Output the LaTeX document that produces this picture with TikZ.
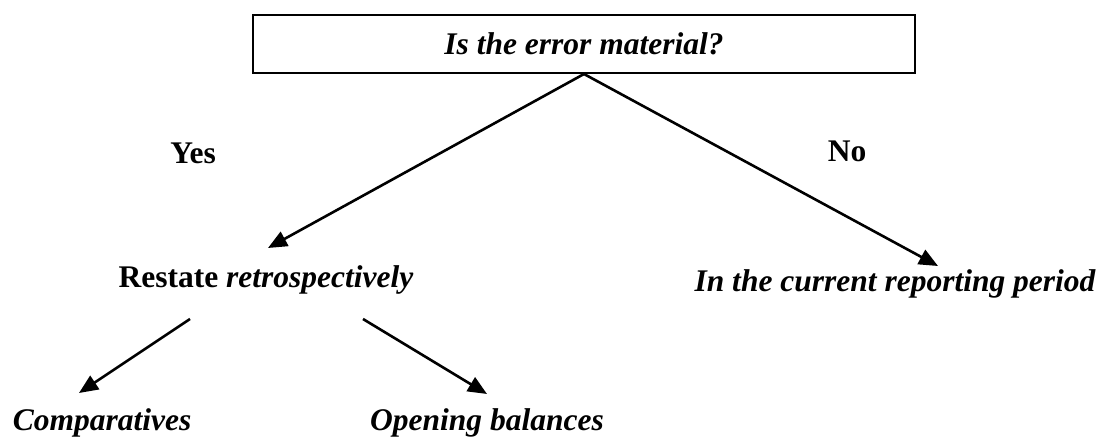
\documentclass[tikz,border=0pt]{standalone}
\usepackage{fontspec}
\setmainfont{Liberation Serif}
\usetikzlibrary{arrows.meta}
\begin{document}
\begin{tikzpicture}[x=1pt,y=-1pt,
  lbl/.style={font=\fontsize{31.5}{38}\selectfont\bfseries, anchor=base, inner sep=0pt},
  ilbl/.style={lbl, font=\fontsize{31.5}{38}\selectfont\bfseries\itshape},
  qbox/.style={draw, line width=2pt, minimum width=662pt, minimum height=58pt, inner sep=0pt},
  link/.style={line width=2.6pt, -{Triangle[length=19pt,width=16pt]}}]
  \useasboundingbox (0,0) rectangle (1101,438);

  % question box
  \node[qbox] (q) at (584,44) {};
  \node[ilbl] (qtext) at (584,55) {Is the error material?};

  % branch labels
  \node[lbl] (yes) at (193,164) {Yes};
  \node[lbl] (no) at (847,162) {No};

  % outcomes
  \node[lbl] (restate) at (266,288) {Restate \textit{retrospectively}};
  \node[ilbl] (current) at (895,292) {In the current reporting period};
  \node[ilbl] (comp) at (102,431) {Comparatives};
  \node[ilbl] (open) at (487,431) {Opening balances};

  % arrow end points
  \coordinate (tipyes) at (268,248);
  \coordinate (tipno) at (938,266);
  \coordinate (fromA) at (190,319);
  \coordinate (fromB) at (363,319);
  \coordinate (tipcomp) at (79,393);
  \coordinate (tipopen) at (487,394);

  \draw[link] (q.south) -- (tipyes);
  \draw[link] (q.south) -- (tipno);
  \draw[link] (fromA) -- (tipcomp);
  \draw[link] (fromB) -- (tipopen);
\end{tikzpicture}
\end{document}
